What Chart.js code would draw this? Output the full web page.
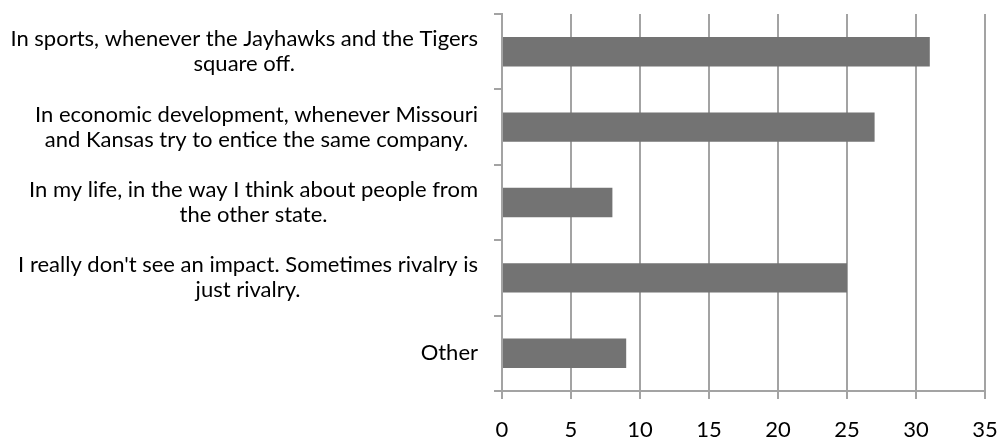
<!DOCTYPE html>
<html>
<head>
<meta charset="utf-8">
<script src="https://cdn.jsdelivr.net/npm/chart.js@4.4.0/dist/chart.umd.min.js"></script>
<style>
  html, body { margin: 0; padding: 0; background: #ffffff; }
  #wrap { width: 999px; height: 440px; position: relative; }
</style>
</head>
<body>
<div id="wrap"><canvas id="c"></canvas></div>
<script>
const categories = [
  ["In sports, whenever the Jayhawks and the Tigers", "square off."],
  ["In economic development, whenever Missouri", "and Kansas try to entice the same company."],
  ["In my life, in the way I think about people from", "the other state."],
  ["I really don't see an impact. Sometimes rivalry is", "just rivalry."],
  ["Other"]
];
const values = [31, 27, 8, 25, 9];
const xMin = 0, xMax = 35, xStep = 5;

const FONT_FAMILY = "Lato, 'Open Sans', sans-serif";
const FONT_SIZE = 22;
const LINE_H = 25;
const LABEL_GAP = 24;
const GRID_COLOR = '#A3A3A3';

const categoryLabelsPlugin = {
  id: 'categoryLabels',
  afterDraw(chart) {
    const ctx = chart.ctx;
    const y = chart.scales.y;
    const rightEdge = y.right - LABEL_GAP;
    ctx.save();
    ctx.font = FONT_SIZE + "px " + FONT_FAMILY;
    ctx.fillStyle = '#000000';
    ctx.textBaseline = 'middle';
    ctx.textAlign = 'center';
    categories.forEach((lines, i) => {
      const cy = y.getPixelForValue(i);
      const w = Math.max(...lines.map(l => ctx.measureText(l).width));
      const cx = rightEdge - w / 2;
      const top = cy - (lines.length - 1) * LINE_H / 2;
      lines.forEach((l, k) => ctx.fillText(l, cx, top + k * LINE_H));
    });
    ctx.restore();
  }
};

new Chart(document.getElementById('c'), {
  type: 'bar',
  data: {
    labels: categories.map(c => c.join(' ')),
    datasets: [{
      data: values,
      backgroundColor: '#737373',
      borderWidth: 0,
      barPercentage: 0.39,
      categoryPercentage: 1.0
    }]
  },
  options: {
    indexAxis: 'y',
    responsive: true,
    maintainAspectRatio: false,
    animation: false,
    layout: { padding: { left: 0, right: 0, top: 14, bottom: 0 } },
    plugins: { legend: { display: false }, tooltip: { enabled: false } },
    scales: {
      x: {
        min: xMin, max: xMax,
        ticks: {
          stepSize: xStep,
          color: '#000000',
          font: { family: FONT_FAMILY, size: FONT_SIZE },
          padding: 18,
          maxRotation: 0
        },
        grid: {
          color: GRID_COLOR,
          lineWidth: 2,
          tickLength: 8,
          drawOnChartArea: true,
          drawTicks: true
        },
        border: { color: GRID_COLOR, width: 2 },
        afterFit(scale) {
          scale.height = 49;
          scale.paddingLeft = 0;
          scale.paddingRight = 14;
        }
      },
      y: {
        ticks: { display: false },
        grid: {
          offset: true,
          drawOnChartArea: false,
          drawTicks: true,
          tickLength: 8,
          color: GRID_COLOR,
          lineWidth: 2
        },
        border: { color: GRID_COLOR, width: 2 },
        afterFit(scale) { scale.width = 502; }
      }
    }
  },
  plugins: [categoryLabelsPlugin]
});
</script>
</body>
</html>
